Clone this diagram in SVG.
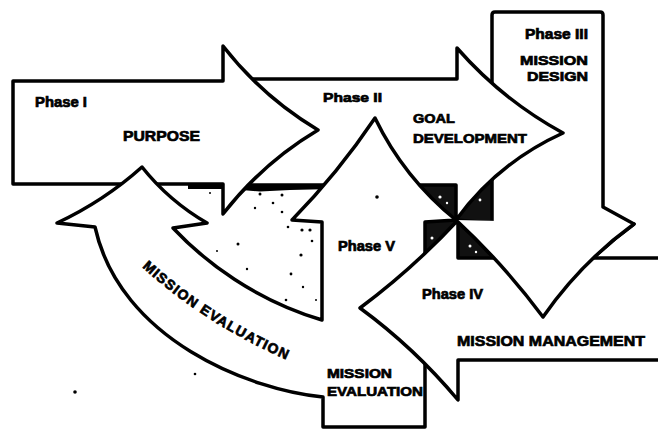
<svg xmlns="http://www.w3.org/2000/svg" width="658" height="429" viewBox="0 0 658 429">
<style>
.ar{fill:#fff;stroke:#000;stroke-width:3.5;stroke-linejoin:round;stroke-linecap:round}
.t{font-family:"Liberation Sans",Arial,sans-serif;font-weight:bold;fill:#000;stroke:#000;stroke-width:0.7}
.d{fill:#000}
</style>
<defs>
<path id="mePath" d="M 142 267 Q 205 325 296 364" fill="none"/>
</defs>
<rect width="658" height="429" fill="#fff"/>
<g id="background">
<rect x="418" y="181" width="84" height="81" fill="#111"/>
<circle cx="440" cy="197" r="1.6" fill="#fff"/><circle cx="447" cy="203" r="1.2" fill="#fff"/>
<circle cx="480" cy="200" r="1.4" fill="#fff"/><circle cx="432" cy="238" r="1.5" fill="#fff"/>
<circle cx="470" cy="246" r="1.5" fill="#fff"/><circle cx="476" cy="252" r="1.2" fill="#fff"/>
<path d="M 188 185 L 332 185 L 332 189 L 290 190 L 260 191.5 L 230 189 L 188 189 Z" fill="#000"/>
<g class="d">
<circle cx="260" cy="194" r="1.5"/><circle cx="282" cy="195" r="1.5"/><circle cx="273" cy="203" r="1.3"/>
<circle cx="255" cy="208" r="1.2"/><circle cx="282" cy="212" r="1.3"/><circle cx="288" cy="227" r="1.3"/>
<circle cx="302" cy="230" r="1.6"/><circle cx="310" cy="230" r="1.6"/><circle cx="312" cy="241" r="1.3"/>
<circle cx="238" cy="244" r="1.5"/><circle cx="217" cy="251" r="1"/><circle cx="301" cy="255" r="1.6"/>
<circle cx="247" cy="269" r="1.2"/><circle cx="291" cy="274" r="1.4"/><circle cx="303" cy="287" r="1.2"/>
<circle cx="286" cy="300" r="1.3"/><circle cx="316" cy="300" r="1"/><circle cx="210" cy="193" r="1"/>
</g>
</g>
<g id="phase3">
<path class="ar" d="M 492 223 L 492 15 Q 492 12 495 12 L 600 12 Q 603 12 603 15 L 603 207 L 634 224 Q 580.6 262.8 543 317 Q 504 264.5 456 220 Z"/>
</g>
<g id="phase2">
<path class="ar" d="M 232 79 L 457 79 L 457 48 Q 502.5 100 563 133 Q 498 162.5 456 220 L 456 185 L 232 185 Z"/>
</g>
<g id="phase1">
<path class="ar" d="M 13 81 L 223 81 L 223 46 Q 262.6 97 318 130 Q 262.6 163 223 214 L 223 184 L 13 184 Z"/>
</g>
<g id="phase5-evaluation">
<path class="ar" d="M 375 118 Q 404 178 456 220 L 425 222 L 425 427 L 323 427 L 323 397 C 250 390 120 340 95 227 L 57 223 Q 104 201 142 167 Q 169 201 207 223 L 173 228 C 205 262 255 300 322 320 L 322 222 L 292 220 Q 338 173 375 118 Z"/>
<circle cx="377" cy="197" r="1.8" class="d"/>
</g>
<g id="phase4">
<path class="ar" d="M 662 258 L 458 258 L 458 220 Q 413 268.5 360 308 Q 414.5 348 458 400 L 458 360 L 662 360 Z"/>
</g>
<g id="phase3-head">
<path class="ar" d="M 634 224 Q 580.6 262.8 543 317 Q 504 264.5 456 220"/>
</g>
<g id="connectors"/>
<g id="labels">
<text class="t" x="35" y="107" font-size="14" textLength="52" lengthAdjust="spacingAndGlyphs">Phase I</text>
<text class="t" x="123" y="141" font-size="15" textLength="77" lengthAdjust="spacingAndGlyphs">PURPOSE</text>
<text class="t" x="323" y="102" font-size="13" textLength="59" lengthAdjust="spacingAndGlyphs">Phase II</text>
<text class="t" x="413" y="123" font-size="13" textLength="42" lengthAdjust="spacingAndGlyphs">GOAL</text>
<text class="t" x="413" y="143" font-size="13" textLength="114" lengthAdjust="spacingAndGlyphs">DEVELOPMENT</text>
<text class="t" x="525" y="39" font-size="14" textLength="63" lengthAdjust="spacingAndGlyphs">Phase III</text>
<text class="t" x="520" y="65" font-size="13" textLength="68" lengthAdjust="spacingAndGlyphs">MISSION</text>
<text class="t" x="527" y="81" font-size="13" textLength="61" lengthAdjust="spacingAndGlyphs">DESIGN</text>
<text class="t" x="338" y="251" font-size="14" textLength="57" lengthAdjust="spacingAndGlyphs">Phase V</text>
<text class="t" x="422" y="299" font-size="14" textLength="61" lengthAdjust="spacingAndGlyphs">Phase IV</text>
<text class="t" x="457" y="346" font-size="15" textLength="188" lengthAdjust="spacingAndGlyphs">MISSION MANAGEMENT</text>
<text class="t" x="327" y="378" font-size="13" textLength="65" lengthAdjust="spacingAndGlyphs">MISSION</text>
<text class="t" x="327" y="396" font-size="13" textLength="96" lengthAdjust="spacingAndGlyphs">EVALUATION</text>
<text class="t" font-size="14" letter-spacing="1.2"><textPath href="#mePath">MISSION EVALUATION</textPath></text>
</g>
<g id="specks" class="d">
<circle cx="75" cy="392" r="1.8"/><circle cx="195" cy="374" r="1.3"/>
</g>
</svg>
